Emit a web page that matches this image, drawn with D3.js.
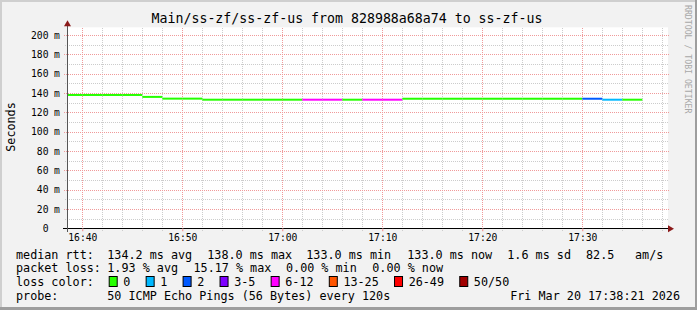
<!DOCTYPE html>
<html>
<head>
<meta charset="utf-8">
<script src="https://cdn.jsdelivr.net/npm/d3@7"></script>
<style>
  body { margin: 0; background: #f2f2f2; }
  svg { display: block; }
  text { font-family: "DejaVu Sans Mono", monospace; fill: #000; }
</style>
</head>
<body>
<svg id="chart" width="697" height="310"></svg>
<script>
// --- data ---
const title = "Main/ss-zf/ss-zf-us from 828988a68a74 to ss-zf-us"
const sampleTimes = ["16:40", "16:42", "16:44", "16:46", "16:48", "16:50", "16:52", "16:54", "16:56", "16:58",
  "17:00", "17:02", "17:04", "17:06", "17:08", "17:10", "17:12", "17:14", "17:16", "17:18",
  "17:20", "17:22", "17:24", "17:26", "17:28", "17:30", "17:32", "17:34", "17:36"]
const medianMs = [138.0, 138.0, 138.0, 138.0, 136.0, 134.2, 134.2, 133.1, 133.1, 133.1,
  133.1, 133.1, 133.1, 133.1, 133.1, 133.1, 133.1, 134.1, 134.1, 134.1,
  134.1, 134.1, 134.1, 134.1, 134.1, 134.1, 134.1, 133.1, 133.1]
const lossCount = [0, 0, 0, 0, 0, 0, 0, 0, 0, 0,
  0, 0, 7, 8, 0, 6, 7, 0, 0, 0,
  0, 0, 0, 0, 0, 0, 2, 1, 0]
const yTicks = [0, 20, 40, 60, 80, 100, 120, 140, 160, 180, 200]
const lossLabels = ["0", "1", "2", "3-5", "6-12", "13-25", "26-49", "50/50"]
const lossUpper = [0, 1, 2, 5, 12, 25, 49, 50]
const lossColors = ["#26ff00", "#00b8ff", "#0059ff", "#7e00ff", "#ff00ff", "#ff5500", "#ff0000", "#a10000"]
const rttStats = ["134.2 ms avg", "138.0 ms max", "133.0 ms min", "133.0 ms now", "1.6 ms sd", "82.5", "am/s"]
const lossStats = ["1.93 % avg", "15.17 % max", "0.00 % min", "0.00 % now"]
const probeText = "50 ICMP Echo Pings (56 Bytes) every 120s"
const stampText = "Fri Mar 20 17:38:21 2026"
const startTime = "16:38:28", endTime = "17:38:28"

const svg = d3.select("#chart")
const W = 697, H = 310
const plot = { left: 67, right: 667, top: 28.3, bottom: 228.3 }

// frame
svg.append("rect").attr("width", W).attr("height", H).attr("fill", "#f2f2f2")
svg.append("rect").attr("x", 0).attr("y", 0).attr("width", W).attr("height", 2).attr("fill", "#cfcfcf")
svg.append("rect").attr("x", 0).attr("y", 0).attr("width", 2).attr("height", H).attr("fill", "#cfcfcf")
svg.append("rect").attr("x", W - 2).attr("y", 0).attr("width", 2).attr("height", H).attr("fill", "#9e9e9e")
svg.append("rect").attr("x", 0).attr("y", H - 3).attr("width", W).attr("height", 3).attr("fill", "#9e9e9e")

const parseHM = d3.timeParse("%H:%M")
const parseHMS = d3.timeParse("%H:%M:%S")
const xScale = d3.scaleTime().domain([parseHMS(startTime), parseHMS(endTime)]).range([plot.left, plot.right])
const yScale = d3.scaleLinear().domain([0, 207]).range([plot.bottom, plot.top])

// canvas
svg.append("rect").attr("x", plot.left).attr("y", plot.top - 1).attr("width", plot.right - plot.left + 1)
  .attr("height", plot.bottom - plot.top + 1).attr("fill", "#ffffff")

// grid
const minorX = d3.timeMinute.every(2).range(xScale.domain()[0], d3.timeSecond.offset(xScale.domain()[1], 20))
const majorX = d3.timeMinute.every(10).range(xScale.domain()[0], xScale.domain()[1])
const gridG = svg.append("g").attr("shape-rendering", "crispEdges")
minorX.filter(d => d.getMinutes() % 10 != 0).forEach(d => {
  const x = Math.round(xScale(d)) + 0.5
  gridG.append("line").attr("x1", x).attr("x2", x).attr("y1", plot.top).attr("y2", plot.bottom + 3)
    .attr("stroke", "#cccccc").attr("stroke-dasharray", "1,1")
})
const minorY = d3.range(10, 210, 20)
minorY.forEach(v => {
  const y = Math.round(yScale(v)) + 0.5
  gridG.append("line").attr("x1", plot.left - 2).attr("x2", plot.right + 1).attr("y1", y).attr("y2", y)
    .attr("stroke", "#cccccc").attr("stroke-dasharray", "1,1")
})
yTicks.filter(v => v > 0).forEach(v => {
  const y = Math.round(yScale(v)) + 0.5
  gridG.append("line").attr("x1", plot.left - 3).attr("x2", plot.right + 3).attr("y1", y).attr("y2", y)
    .attr("stroke", "#f09a9a").attr("stroke-dasharray", "1,1")
})
majorX.forEach(d => {
  const x = Math.round(xScale(d)) + 0.5
  gridG.append("line").attr("x1", x).attr("x2", x).attr("y1", plot.top).attr("y2", plot.bottom + 3)
    .attr("stroke", "#f09a9a").attr("stroke-dasharray", "1,1")
})

// median rtt, coloured by loss
function lossIndex(n) {
  for (let i = 0; i < lossUpper.length; i++) { if (n <= lossUpper[i]) return i }
  return lossUpper.length - 1
}
const line = d3.line().x(d => xScale(d[0])).y(d => yScale(d[1]))
sampleTimes.forEach((t, i) => {
  const t1 = parseHM(t)
  let t0 = d3.timeMinute.offset(t1, -2)
  if (t0 < xScale.domain()[0]) t0 = xScale.domain()[0]
  svg.append("path").datum([[t0, medianMs[i]], [t1, medianMs[i]]])
    .attr("d", line).attr("fill", "none")
    .attr("stroke", lossColors[lossIndex(lossCount[i])]).attr("stroke-width", 2)
})

// axes
const axisG = svg.append("g").attr("shape-rendering", "crispEdges")
axisG.append("line").attr("x1", plot.left - 4).attr("x2", plot.right + 3)
  .attr("y1", Math.round(plot.bottom) + 0.5).attr("y2", Math.round(plot.bottom) + 0.5).attr("stroke", "#000")
axisG.append("line").attr("x1", plot.left + 0.5).attr("x2", plot.left + 0.5)
  .attr("y1", plot.top - 4).attr("y2", plot.bottom + 4).attr("stroke", "#555")
svg.append("path").attr("d", `M${plot.right + 1},${plot.bottom - 3} L${plot.right + 7},${plot.bottom + 0.5} L${plot.right + 1},${plot.bottom + 4} Z`)
  .attr("fill", "#8b1a1a")
svg.append("path").attr("d", `M${plot.left - 3},${plot.top - 2} L${plot.left + 0.5},${plot.top - 8} L${plot.left + 4},${plot.top - 2} Z`)
  .attr("fill", "#8b1a1a")

const xAxis = d3.axisBottom(xScale).tickValues(majorX).tickSize(3).tickPadding(3)
  .tickFormat(d3.timeFormat("%H:%M"))
const xAxisGroup = svg.append("g").attr("transform", `translate(0, ${plot.bottom})`).call(xAxis)
xAxisGroup.select(".domain").remove()
xAxisGroup.selectAll(".tick line").attr("stroke", "#f09a9a")
xAxisGroup.selectAll("text").style("font-family", "DejaVu Sans Mono").style("font-size", "9.7px").attr("fill", "#000")

const yLab = svg.append("g")
yLab.selectAll("text.num").data(yTicks).enter().append("text")
  .attr("x", 48.5).attr("y", d => yScale(d) + 3.6).attr("text-anchor", "end")
  .style("font-size", "9.7px").text(d => d)
yLab.selectAll("text.unit").data(yTicks.filter(d => d > 0)).enter().append("text")
  .attr("x", 54).attr("y", d => yScale(d) + 3.6)
  .style("font-size", "9.7px").text("m")

// titles
svg.append("text").attr("x", 347).attr("y", 23.3).attr("text-anchor", "middle")
  .style("font-size", "13.25px").text(title)
svg.append("text").attr("transform", "translate(14.5, 127) rotate(-90)").attr("text-anchor", "middle")
  .style("font-size", "11.75px").text("Seconds")
svg.append("text").attr("transform", "translate(684.5, 5) rotate(90)")
  .style("font-size", "8.2px").style("fill", "#a8a8a8").text("RRDTOOL / TOBI OETIKER")

// legend
const fs = "11.75px"
function put(x, y, s) { svg.append("text").attr("x", x).attr("y", y).style("font-size", fs).attr("xml:space", "preserve").text(s) }
put(16, 258.5, "median rtt:")
const rttX = [107.3, 207.3, 306.3, 407.3, 507.3, 586, 635]
rttStats.forEach((s, i) => put(rttX[i], 258.5, s))
put(16, 272, "packet loss:")
const lossX = [107.3, 193.5, 286, 372.3]
lossStats.forEach((s, i) => put(lossX[i], 272, s))
put(16, 286, "loss color:")
let sx = 108.7
lossLabels.forEach((l, i) => {
  svg.append("rect").attr("x", sx + 0.5).attr("y", 276.5).attr("width", 8).attr("height", 10)
    .attr("fill", lossColors[i]).attr("stroke", "#000").attr("stroke-width", 1)
  put(sx + 14.6, 286, l)
  sx += (l.length + 4) * 7.07 + 1.6
})
put(16, 299.5, "probe:")
put(107.3, 299.5, probeText)
svg.append("text").attr("x", 680).attr("y", 299.5).attr("text-anchor", "end").style("font-size", fs).text(stampText)
</script>
</body>
</html>
